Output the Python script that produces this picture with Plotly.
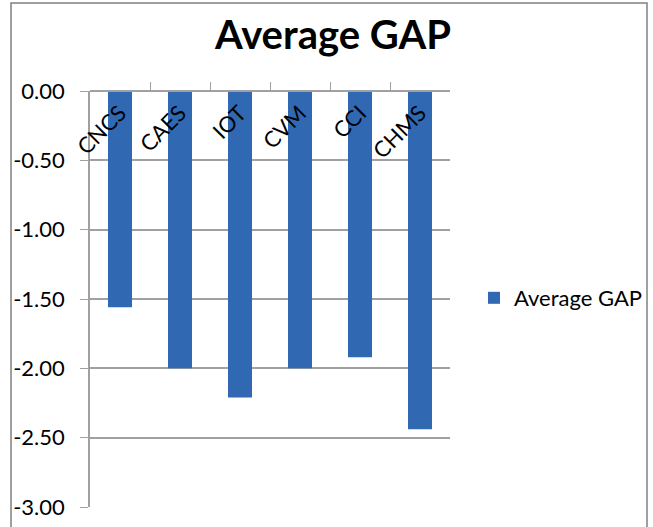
import plotly.graph_objects as go

categories = ["CNCS", "CAES", "IOT", "CVM", "CCI", "CHMS"]
avg_gap = [-1.56, -2.00, -2.21, -2.00, -1.92, -2.44]
series_name = "Average GAP"
y_ticks = [0, -0.5, -1.0, -1.5, -2.0, -2.5, -3.0]
y_tick_text = ["%.2f" % v for v in y_ticks]

FONT = "Lato"
fig = go.Figure()
fig.add_trace(go.Bar(
    x=categories, y=avg_gap, name=series_name,
    marker=dict(color="#3069B2", line=dict(width=0)),
    width=0.4, showlegend=True,
))

W, H = 653, 527
L, R, T, B = 90, 450, 91, 507

fig.update_layout(
    width=W, height=H,
    margin=dict(l=L, r=W - R, t=T, b=H - B, pad=0, autoexpand=False),
    paper_bgcolor="white", plot_bgcolor="white",
    font=dict(family=FONT, color="#000000", size=22),
    title=dict(text="<b>Average GAP</b>", x=0.51, xref="container", xanchor="center",
               y=1 - 35 / H, yref="container", yanchor="middle",
               font=dict(family=FONT, size=40, color="#000000")),
    showlegend=True,
    legend=dict(xref="container", yref="container", x=474 / W, y=1 - 298 / H,
                xanchor="left", yanchor="middle", font=dict(family=FONT, size=22),
                bgcolor="rgba(0,0,0,0)", itemwidth=30),
    xaxis=dict(
        type="category", anchor="free", position=1, side="bottom",
        showline=True, linecolor="#A0A0A0", linewidth=1.5,
        ticks="inside", tickson="boundaries", ticklen=8, tickcolor="#A0A0A0",
        tickangle=-45, tickfont=dict(family=FONT, size=22),
        showgrid=False, zeroline=False,
    ),
    yaxis=dict(
        range=[-3, 0], tickvals=y_ticks, ticktext=y_tick_text,
        showline=True, linecolor="#A0A0A0", linewidth=1.5,
        ticks="outside", ticklen=8, tickcolor="#A0A0A0",
        showgrid=True, gridcolor="#A0A0A0", gridwidth=1.5,
        zeroline=False, tickfont=dict(family=FONT, size=22),
        ticklabelstandoff=11,
    ),
    shapes=[dict(type="rect", xref="paper", yref="paper",
                 x0=(11 - L) / (R - L), x1=(647 - L) / (R - L),
                 y0=(B - 540) / (B - T), y1=(B - 3) / (B - T),
                 line=dict(color="#808080", width=1.5), fillcolor="rgba(0,0,0,0)",
                 layer="below")],
)

fig.write_html("out.html", config={"displayModeBar": False},
               post_script="document.body.style.margin='0';")
